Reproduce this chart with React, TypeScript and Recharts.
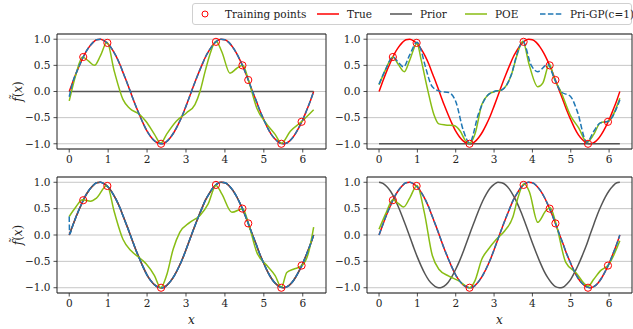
import React from 'react';
import { ComposedChart, Line, Scatter, XAxis, YAxis, CartesianGrid, ReferenceArea, Label } from 'recharts';

// ---------- data ----------
const xGrid = [0, 0.1, 0.2, 0.3, 0.4, 0.5, 0.6, 0.7, 0.8, 0.9, 1.0, 1.1, 1.2, 1.3, 1.4, 1.5, 1.6, 1.7, 1.8, 1.9, 2.0, 2.1, 2.2, 2.3, 2.4, 2.5, 2.6, 2.7, 2.8, 2.9, 3.0, 3.1, 3.2, 3.3, 3.4, 3.5, 3.6, 3.7, 3.8, 3.9, 4.0, 4.1, 4.2, 4.3, 4.4, 4.5, 4.6, 4.7, 4.8, 4.9, 5.0, 5.1, 5.2, 5.3, 5.4, 5.5, 5.6, 5.7, 5.8, 5.9, 6.0, 6.1, 6.2, 6.28];

const trueY = [0, 0.20, 0.39, 0.56, 0.72, 0.84, 0.93, 0.99, 1.00, 0.97,
  0.91, 0.81, 0.68, 0.52, 0.33, 0.14, -0.06, -0.26, -0.44, -0.61,
  -0.76, -0.87, -0.95, -0.99, -1.00, -0.96, -0.88, -0.77, -0.63, -0.47,
  -0.28, -0.08, 0.12, 0.31, 0.49, 0.66, 0.79, 0.90, 0.97, 1.00,
  0.99, 0.94, 0.85, 0.73, 0.58, 0.41, 0.22, 0.02, -0.17, -0.37,
  -0.54, -0.70, -0.83, -0.92, -0.98, -1.00, -0.98, -0.92, -0.82, -0.69,
  -0.54, -0.36, -0.17, 0.00];

const cosPriorY = [1.00, 0.98, 0.92, 0.83, 0.70, 0.54, 0.36, 0.17, -0.03, -0.23,
  -0.42, -0.59, -0.74, -0.86, -0.94, -0.99, -1.00, -0.97, -0.90, -0.79,
  -0.65, -0.49, -0.31, -0.11, 0.09, 0.28, 0.47, 0.64, 0.78, 0.89,
  0.96, 1.00, 0.99, 0.95, 0.87, 0.75, 0.61, 0.44, 0.25, 0.05,
  -0.15, -0.34, -0.52, -0.68, -0.81, -0.91, -0.98, -1.00, -0.99, -0.93,
  -0.84, -0.71, -0.56, -0.39, -0.21, 0.00, 0.20, 0.40, 0.57, 0.72,
  0.84, 0.93, 0.99, 1.00];

const flatPriorX = [0, 6.28];
const zeroPriorY = [0, 0];
const minusOnePriorY = [-1, -1];

const trainX = [0.36, 0.98, 2.36, 3.77, 4.45, 4.6, 5.45, 5.97];
const trainY = [0.66, 0.93, -1.0, 0.95, 0.5, 0.22, -1.0, -0.58];

const poe1X = [0, 0.17, 0.34, 0.5, 0.65, 0.8, 0.97, 1.16, 1.38, 1.55, 1.81, 1.98, 2.19, 2.35, 2.5, 2.75, 3.01, 3.23, 3.36, 3.49, 3.61, 3.77, 3.92, 4.13, 4.3, 4.46, 4.6, 4.82, 5.08, 5.29, 5.45, 5.68, 5.98, 6.28];
const poe1Y = [-0.18, 0.32, 0.66, 0.58, 0.5, 0.68, 0.94, 0.38, -0.15, -0.32, -0.44, -0.58, -0.82, -0.99, -0.82, -0.57, -0.41, -0.25, 0, 0.38, 0.7, 0.96, 0.76, 0.35, 0.44, 0.5, 0.23, -0.32, -0.63, -0.82, -0.99, -0.76, -0.57, -0.35];

const poe2X = [0, 0.17, 0.36, 0.5, 0.66, 0.8, 0.99, 1.1, 1.26, 1.43, 1.56, 1.73, 1.95, 2.12, 2.25, 2.36, 2.5, 2.68, 2.85, 3.02, 3.2, 3.45, 3.6, 3.75, 3.92, 4.14, 4.27, 4.44, 4.57, 4.74, 5.0, 5.21, 5.42, 5.6, 5.77, 5.98, 6.28];
const poe2Y = [0.13, 0.42, 0.66, 0.52, 0.38, 0.6, 0.92, 0.6, 0.06, -0.44, -0.62, -0.64, -0.65, -0.76, -0.94, -0.99, -0.82, -0.25, -0.06, 0, 0.03, 0.32, 0.7, 0.96, 0.5, 0.09, 0.16, 0.52, 0.25, 0, -0.47, -0.7, -0.97, -0.82, -0.6, -0.57, -0.13];

const priGp2X = [0, 0.17, 0.36, 0.5, 0.64, 0.8, 0.99, 1.1, 1.2, 1.39, 1.6, 1.82, 2.0, 2.2, 2.36, 2.6, 2.8, 3.0, 3.2, 3.45, 3.6, 3.75, 3.97, 4.14, 4.4, 4.57, 4.74, 5.0, 5.17, 5.42, 5.6, 5.77, 5.98, 6.28];
const priGp2Y = [0.14, 0.42, 0.66, 0.56, 0.47, 0.7, 0.94, 0.78, 0.5, 0.09, 0.0, -0.02, -0.19, -0.75, -0.98, -0.41, -0.1, 0, 0.03, 0.32, 0.72, 0.96, 0.5, 0.38, 0.52, 0.25, 0.0, -0.1, -0.38, -0.97, -0.76, -0.6, -0.57, -0.16];

const poe3X = [0, 0.17, 0.34, 0.55, 0.7, 0.97, 1.16, 1.38, 1.59, 1.85, 1.98, 2.19, 2.35, 2.5, 2.67, 2.84, 3.1, 3.36, 3.57, 3.77, 3.92, 4.18, 4.46, 4.6, 4.82, 5.08, 5.29, 5.45, 5.59, 5.76, 5.98, 6.15, 6.28];
const poe3Y = [0.35, 0.53, 0.67, 0.64, 0.7, 0.94, 0.43, -0.08, -0.3, -0.46, -0.55, -0.77, -1.0, -0.77, -0.27, 0.05, 0.24, 0.37, 0.59, 0.94, 0.78, 0.43, 0.5, 0.23, -0.33, -0.58, -0.77, -0.99, -0.71, -0.65, -0.58, -0.33, 0.15];

const poe4X = [0, 0.19, 0.36, 0.5, 0.64, 0.8, 0.99, 1.18, 1.39, 1.56, 1.82, 2.08, 2.36, 2.5, 2.68, 2.85, 3.06, 3.28, 3.49, 3.62, 3.78, 3.92, 4.14, 4.35, 4.46, 4.61, 4.87, 5.13, 5.45, 5.6, 5.77, 5.98, 6.28];
const poe4Y = [0.11, 0.43, 0.67, 0.6, 0.53, 0.7, 0.94, 0.43, -0.39, -0.65, -0.78, -0.87, -1.0, -0.87, -0.46, -0.27, -0.08, 0.08, 0.34, 0.7, 0.97, 0.82, 0.24, 0.46, 0.52, 0.23, -0.52, -0.71, -0.97, -0.84, -0.68, -0.57, -0.11];

// Pri-GP start values that differ from the true curve
const priGp1HeadX = [0];
const priGp1HeadY = [-0.1];
const priGp3HeadX = [0, 0.01];
const priGp3HeadY = [0.35, 0.02];

const xTicks = [0, 1, 2, 3, 4, 5, 6];
const yTicks = [-1.0, -0.5, 0.0, 0.5, 1.0];
const X_DOMAIN: [number, number] = [-0.314, 6.597];
const Y_DOMAIN: [number, number] = [-1.1, 1.1];

// ---------- helpers ----------
type Pt = { x: number; y: number };
const zip = (xs: number[], ys: number[]): Pt[] => xs.map((x, i) => ({ x, y: ys[i] }));

const trueData = zip(xGrid, trueY);
const priGpWithHead = (hx: number[], hy: number[]) => zip(hx, hy).concat(zip(xGrid.slice(1), trueY.slice(1)));
const trainData = zip(trainX, trainY);

const FONT = 'DejaVu Serif';
const RED = '#ff0000';
const GRAY = '#555555';
const GREEN = '#88bd14';
const BLUE = '#1f77b4';

const fmtY = (v: number) => v.toFixed(1).replace('-', '\u2212');

const Circle = (p: any) => (
  <circle cx={p.cx} cy={p.cy} r={3.6} fill="none" stroke={RED} strokeWidth={1} />
);

type PanelProps = {
  left: number; top: number; width: number; height: number; right: number; xAxisH: number;
  plotH: number; xLabel: boolean; yLabel: boolean;
  prior: Pt[]; poe: Pt[]; priGp: Pt[];
};

const tickStyle = { fontFamily: FONT, fontSize: 10.5, fill: '#222' };

function Panel(p: PanelProps) {
  const plotLeft = 57;
  const plotW = p.width - p.right - plotLeft;
  return (
    <div style={{ position: 'absolute', left: p.left, top: p.top }}>
      <ComposedChart width={p.width} height={p.height} margin={{ top: 8, right: p.right, left: 0, bottom: 0 }}>
        <CartesianGrid horizontal vertical={false} stroke="#b8b8b8" strokeWidth={0.8} />
        <XAxis
          type="number" dataKey="x" domain={X_DOMAIN} ticks={xTicks} allowDataOverflow
          height={p.xAxisH} axisLine={false} tickSize={3.5} tickMargin={3}
          tickLine={{ stroke: '#222', strokeWidth: 0.8 }}
          tick={tickStyle}
        >
          {p.xLabel ? (
            <Label content={() => (
              <text x={plotLeft + plotW / 2} y={8 + p.plotH + 27} textAnchor="middle" dominantBaseline="central"
                fontFamily={FONT} fontSize={12} fontStyle="italic" fill="#222">x</text>
            )} />
          ) : null}
        </XAxis>
        <YAxis
          type="number" dataKey="y" domain={Y_DOMAIN} ticks={yTicks} allowDataOverflow
          width={57} axisLine={false} tickSize={3.5} tickMargin={3} tickFormatter={fmtY}
          tickLine={{ stroke: '#222', strokeWidth: 0.8 }}
          tick={tickStyle}
        >
          {p.yLabel ? (
            <Label content={() => {
              const cx = 18;
              const cy = 8 + p.plotH / 2;
              return (
                <text x={cx} y={cy} transform={`rotate(-90 ${cx} ${cy})`} textAnchor="middle" dominantBaseline="central"
                  fontFamily={FONT} fontSize={12} fill="#222">
                  <tspan fontStyle="italic">{'f\u0303'}</tspan>(<tspan fontStyle="italic">x</tspan>)
                </text>
              );
            }} />
          ) : null}
        </YAxis>
        <Line data={trueData} dataKey="y" type="monotone" stroke={RED} strokeWidth={1.5} dot={false} isAnimationActive={false} />
        <Line data={p.prior} dataKey="y" type="monotone" stroke={GRAY} strokeWidth={1.5} dot={false} isAnimationActive={false} />
        <Line data={p.poe} dataKey="y" type="monotone" stroke={GREEN} strokeWidth={1.5} dot={false} isAnimationActive={false} />
        <Line data={p.priGp} dataKey="y" type="monotone" stroke={BLUE} strokeWidth={1.5} strokeDasharray="5.5 2.4" dot={false} isAnimationActive={false} />
        <Scatter data={trainData} dataKey="y" shape={Circle} isAnimationActive={false} />
        <ReferenceArea x1={X_DOMAIN[0]} x2={X_DOMAIN[1]} y1={Y_DOMAIN[0]} y2={Y_DOMAIN[1]} fill="none" stroke="#222" strokeWidth={1} ifOverflow="visible" />
      </ComposedChart>
    </div>
  );
}

function LegendBox() {
  const y = 14;
  const ts = { fontSize: 10.5, fill: '#222', fontFamily: FONT } as const;
  return (
    <svg width={633} height={30} style={{ position: 'absolute', left: 0, top: 0 }}>
      <rect x={192.5} y={3.5} width={439} height={21} rx={2.5} fill="#fff" stroke="#d0d0d0" strokeWidth={1} />
      <circle cx={205} cy={y} r={3} fill="none" stroke={RED} strokeWidth={1} />
      <text x={225} y={y} dominantBaseline="central" {...ts}>Training points</text>
      <line x1={317} x2={339} y1={y} y2={y} stroke={RED} strokeWidth={1.5} />
      <text x={347} y={y} dominantBaseline="central" {...ts}>True</text>
      <line x1={390} x2={412} y1={y} y2={y} stroke={GRAY} strokeWidth={1.5} />
      <text x={420} y={y} dominantBaseline="central" {...ts}>Prior</text>
      <line x1={465} x2={487} y1={y} y2={y} stroke={GREEN} strokeWidth={1.5} />
      <text x={495} y={y} dominantBaseline="central" {...ts}>POE</text>
      <line x1={540} x2={562} y1={y} y2={y} stroke={BLUE} strokeWidth={1.5} strokeDasharray="5.5 2.4" />
      <text x={570} y={y} dominantBaseline="central" {...ts}>Pri-GP(c=1)</text>
    </svg>
  );
}

export default function App() {
  return (
    <div style={{ position: 'absolute', left: 0, top: 0, width: 633, height: 329, background: '#fff', overflow: 'hidden' }}>
      <LegendBox />
      <Panel left={0} top={26} width={333} height={145} right={7} xAxisH={22} plotH={115} xLabel={false} yLabel={true}
        prior={zip(flatPriorX, zeroPriorY)} poe={zip(poe1X, poe1Y)} priGp={priGpWithHead(priGp1HeadX, priGp1HeadY)} />
      <Panel left={310} top={26} width={323} height={145} right={1} xAxisH={22} plotH={115} xLabel={false} yLabel={false}
        prior={zip(flatPriorX, minusOnePriorY)} poe={zip(poe2X, poe2Y)} priGp={zip(priGp2X, priGp2Y)} />
      <Panel left={0} top={169} width={333} height={160} right={7} xAxisH={36} plotH={116} xLabel={true} yLabel={true}
        prior={trueData} poe={zip(poe3X, poe3Y)} priGp={priGpWithHead(priGp3HeadX, priGp3HeadY)} />
      <Panel left={310} top={169} width={323} height={160} right={1} xAxisH={36} plotH={116} xLabel={true} yLabel={false}
        prior={zip(xGrid, cosPriorY)} poe={zip(poe4X, poe4Y)} priGp={trueData} />
    </div>
  );
}
